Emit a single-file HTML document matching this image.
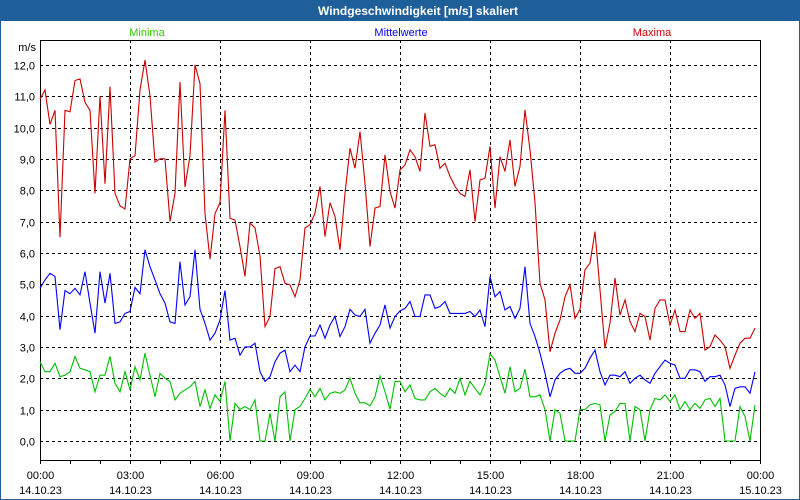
<!DOCTYPE html>
<html><head><meta charset="utf-8"><style>
html,body{margin:0;padding:0;background:#fff;}
#win{position:relative;width:800px;height:500px;overflow:hidden;}
svg text{font-family:"Liberation Sans",sans-serif;}
</style></head><body>
<div id="win">
<svg id="chart" width="800" height="500" xmlns="http://www.w3.org/2000/svg">
<rect x="0" y="0" width="800" height="500" fill="#fff"/>
<rect x="0.5" y="0.5" width="799" height="499" fill="none" stroke="#1e5f99" stroke-width="1"/>
<rect x="0" y="0" width="800" height="21" fill="#1e5f99"/>
<text x="418" y="15" text-anchor="middle" font-size="12" font-weight="bold" fill="#fff">Windgeschwindigkeit [m/s] skaliert</text>
<text x="147" y="36" text-anchor="middle" font-size="11" fill="#33cc00">Minima</text>
<text x="401" y="36" text-anchor="middle" font-size="11" fill="#0000ff">Mittelwerte</text>
<text x="652" y="36" text-anchor="middle" font-size="11" fill="#cc0000">Maxima</text>
<text x="36" y="51" text-anchor="end" font-size="11" fill="#000">m/s</text>
<g id="grid"></g><g id="axes"></g><g id="series"></g>
</svg>
</div>
<script>
const yTicks=[0,1,2,3,4,5,6,7,8,9,10,11,12];
const xTickLabels=["00:00","03:00","06:00","09:00","12:00","15:00","18:00","21:00","00:00"];
const xDateLabels=["14.10.23","14.10.23","14.10.23","14.10.23","14.10.23","14.10.23","14.10.23","14.10.23","15.10.23"];
const maxima=[10.9,11.2,10.1,10.55,6.5,10.55,10.5,11.5,11.55,10.8,10.55,7.9,11.0,8.2,11.3,7.9,7.5,7.4,9.0,9.1,11.2,12.15,11.0,8.9,9.0,9.0,7.0,7.9,11.45,8.1,9.1,12.0,11.4,7.25,5.8,7.25,
7.6,10.55,7.1,7.05,6.2,5.25,6.95,6.8,5.9,3.65,3.97,5.5,5.56,5.03,4.98,4.6,5.14,6.8,6.9,7.27,8.12,6.52,7.6,7.16,6.1,7.9,9.34,8.7,9.87,8.22,6.2,7.43,7.48,9.13,7.96,7.43,
8.65,8.8,9.29,9.07,8.6,10.46,9.4,9.45,8.7,8.86,8.44,8.12,7.9,7.8,8.65,7.0,8.33,8.38,9.4,7.43,9.07,8.6,9.6,8.12,8.76,10.56,9.29,7.6,5.03,4.5,2.85,3.44,3.86,4.6,4.98,3.91,
4.2,5.46,5.67,6.68,4.82,2.96,3.76,5.2,4.02,4.5,3.81,3.49,4.07,3.97,3.22,4.23,4.5,4.5,3.7,4.18,3.49,3.49,4.18,3.91,4.07,2.9,3.01,3.38,3.22,3.01,2.32,2.74,3.12,3.28,3.28,3.6];
const mittel=[4.87,5.14,5.35,5.25,3.55,4.8,4.7,4.87,4.66,5.4,4.4,3.44,5.4,4.4,5.35,3.75,3.8,4.07,4.13,4.9,4.7,6.1,5.56,5.14,4.7,4.4,3.8,3.75,5.72,4.34,4.6,6.1,4.2,3.75,3.22,3.44,
3.86,4.8,3.22,3.28,2.74,3.0,3.0,3.12,2.21,1.9,2.05,2.53,2.8,2.9,2.21,2.42,2.21,3.0,3.35,3.35,3.7,3.28,3.7,3.97,3.33,3.65,4.2,4.02,3.97,4.2,3.12,3.44,3.7,4.34,3.6,3.97,
4.15,4.23,4.45,3.97,3.97,4.66,4.66,4.23,4.29,4.45,4.07,4.07,4.07,4.07,4.13,3.97,4.18,3.65,5.25,4.6,4.77,4.18,4.29,3.91,4.23,5.56,3.75,3.33,2.8,2.16,1.41,1.95,2.16,2.27,2.32,2.16,
2.16,2.32,2.64,2.9,2.21,1.79,2.1,2.1,2.05,2.21,1.84,2.0,2.1,1.95,1.84,2.16,2.37,2.58,2.48,2.42,2.0,2.0,2.27,2.27,2.21,1.9,2.05,2.05,2.1,1.79,1.1,1.68,1.73,1.73,1.52,2.21];
const minima=[2.53,2.21,2.21,2.48,2.05,2.1,2.21,2.7,2.32,2.27,2.21,1.57,2.1,2.1,2.7,1.84,1.57,2.21,1.63,2.37,1.95,2.8,2.1,1.41,2.16,2.0,1.9,1.31,1.52,1.63,1.73,1.9,1.1,1.63,1.04,1.47,
1.26,1.9,0,1.2,1.0,1.1,1.0,1.31,0,0,0.88,0,1.41,1.57,0,1.0,1.1,1.36,1.65,1.41,1.68,1.31,1.52,1.57,1.52,1.63,2.0,1.52,1.22,1.22,1.12,1.41,2.07,1.57,1.01,1.9,
1.9,1.57,1.79,1.36,1.31,1.31,1.57,1.68,1.52,1.41,1.68,1.52,2.0,1.47,1.9,1.68,1.47,1.84,2.78,2.58,2.05,1.52,2.37,1.57,1.68,2.29,1.41,1.41,1.47,1.0,0,1.0,0.88,0,0,0,
1.0,1.0,1.15,1.2,1.15,0,0.83,0.94,1.2,1.2,0,1.1,1.0,0,1.0,1.36,1.31,1.47,1.26,1.47,1.0,1.26,1.0,1.2,1.04,1.31,1.36,1.1,1.36,0,0,0,1.1,0.78,0,1.15];

const X0=40,X1=760,Y0=40,Y1=460;
const NS="http://www.w3.org/2000/svg";
function yScale(v){return 441-v*31.35;}
function xScale(i){return X0+i*(X1-X0)/144;}
function mk(tag,attrs,parent){const e=document.createElementNS(NS,tag);for(const k in attrs)e.setAttribute(k,attrs[k]);parent.appendChild(e);return e;}
const grid=document.getElementById('grid'),axes=document.getElementById('axes'),ser=document.getElementById('series');
yTicks.forEach(v=>{
  const y=Math.round(yScale(v))+0.5;
  const l=mk('line',{x1:X0,x2:X1,y1:y,y2:y,stroke:'#000','stroke-dasharray':'3,3'},grid);
  
  
  const t=mk('text',{x:35,y:y+4,'text-anchor':'end','font-size':'11',fill:'#000'},axes);
  t.textContent=v.toFixed(1).replace('.',',');
  
  
});
xTickLabels.forEach((lab,k)=>{
  const x=xScale(k*18)+0.5;
  if(k>0&&k<xTickLabels.length-1){
    const l=mk('line',{x1:x,x2:x,y1:Y0,y2:Y1,stroke:'#000','stroke-dasharray':'3,3'},grid);
    
    
  }
  const t=mk('text',{x:x,y:479,'text-anchor':'middle','font-size':'11',fill:'#000'},axes);
  t.textContent=lab;
  
  
  const d=mk('text',{x:x,y:494,'text-anchor':'middle','font-size':'11',fill:'#000'},axes);
  d.textContent=xDateLabels[k];
  
  
});
for(let h=0;h<=24;h++){
  const x=xScale(h*6)+0.5;
  const l=mk('line',{x1:x,x2:x,y1:Y1,y2:Y1+4,stroke:'#000'},axes);
  
  
}
const frame=mk('rect',{x:X0+0.5,y:Y0+0.5,width:X1-X0,height:Y1-Y0,fill:'none',stroke:'#000'},axes);


function drawSeries(arr,color,name){
  const pts=arr.map((v,i)=>xScale(i).toFixed(1)+','+yScale(v).toFixed(1)).join(' ');
  const p=mk('polyline',{points:pts,fill:'none',stroke:color,'stroke-width':'1.1'},ser);
  
  
}
drawSeries(minima,'#00c000','minima-line');
drawSeries(mittel,'#0000ff','mittelwerte-line');
drawSeries(maxima,'#cc0000','maxima-line');
</script>
</body></html>
